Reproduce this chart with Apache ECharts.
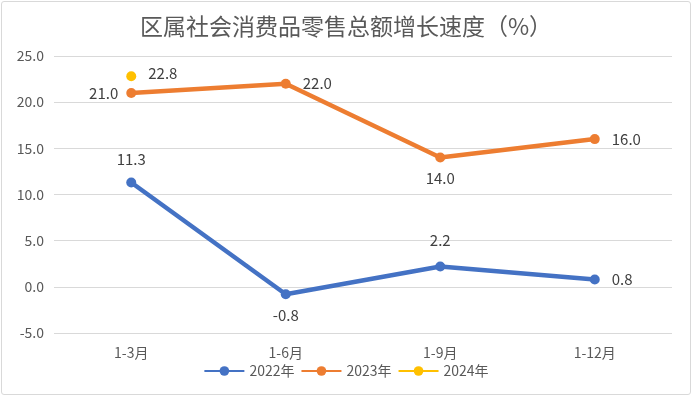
<!DOCTYPE html>
<html><head><meta charset="utf-8">
<script src="https://cdn.jsdelivr.net/npm/echarts@6/dist/echarts.min.js"></script>
<style>
html,body{margin:0;padding:0;background:#fff;}
#c{position:absolute;left:1px;top:1px;width:690px;height:394px;border:1px solid #d9d9d9;border-radius:3px;box-sizing:border-box;}
</style></head>
<body><div id="c"></div>
<script>
const categories = ['1-3月','1-6月','1-9月','1-12月'];
const s2022 = [11.3, -0.8, 2.2, 0.8];
const s2023 = [21.0, 22.0, 14.0, 16.0];
const s2024 = [22.8, null, null, null];
const seriesNames = ['2022年','2023年','2024年'];
const yTicks = {min:-5, max:25, interval:5};

const font = '"Noto Sans CJK SC", "Noto Sans", sans-serif';
const chart = echarts.init(document.getElementById('c'));
function pt(v, pos, d){ return {value:v, label:{position:pos, distance:d}}; }
chart.setOption({
  animation:false,
  textStyle:{fontFamily:font},
  title:{text:'区属社会消费品零售总额增长速度（%）', left:'center', top:8,
    textStyle:{fontSize:23, fontWeight:'normal', color:'#595959', fontFamily:font}},
  grid:{left:52, right:18, top:54, bottom:61},
  legend:{bottom:11, itemWidth:40, itemHeight:12, itemGap:6,
    textStyle:{fontSize:14, color:'#595959', fontFamily:font},
    data:seriesNames},
  xAxis:{type:'category', data:categories, boundaryGap:true,
    axisLine:{show:false}, axisTick:{show:false},
    axisLabel:{fontSize:14, color:'#595959', margin:13, fontFamily:font}},
  yAxis:{type:'value', min:yTicks.min, max:yTicks.max, interval:yTicks.interval,
    axisLine:{show:false}, axisTick:{show:false},
    splitLine:{lineStyle:{color:'#d9d9d9'}},
    axisLabel:{fontSize:14, color:'#595959', margin:10, fontFamily:font,
      formatter:v=>v.toFixed(1)}},
  series:[
    {name:seriesNames[0], type:'line', symbol:'circle', symbolSize:10,
     lineStyle:{width:4.5, color:'#4472C4'}, itemStyle:{color:'#4472C4'},
     label:{show:true, fontSize:15, color:'#404040', formatter:p=>p.value.toFixed(1)},
     data:[pt(s2022[0],'top',11), pt(s2022[1],'bottom',9), pt(s2022[2],'top',14), pt(s2022[3],'right',12)]},
    {name:seriesNames[1], type:'line', symbol:'circle', symbolSize:10,
     lineStyle:{width:4.5, color:'#ED7D31'}, itemStyle:{color:'#ED7D31'},
     label:{show:true, fontSize:15, color:'#404040', formatter:p=>p.value.toFixed(1)},
     data:[pt(s2023[0],'left',8), pt(s2023[1],'right',12), pt(s2023[2],'bottom',8), pt(s2023[3],'right',12)]},
    {name:seriesNames[2], type:'line', symbol:'circle', symbolSize:10,
     lineStyle:{width:4.5, color:'#FFC000'}, itemStyle:{color:'#FFC000'},
     label:{show:true, fontSize:15, color:'#404040', distance:12, position:'right', offset:[0,-3],
       formatter:p=>p.value==null?'':p.value.toFixed(1)},
     data:s2024}
  ]
});
</script></body></html>
